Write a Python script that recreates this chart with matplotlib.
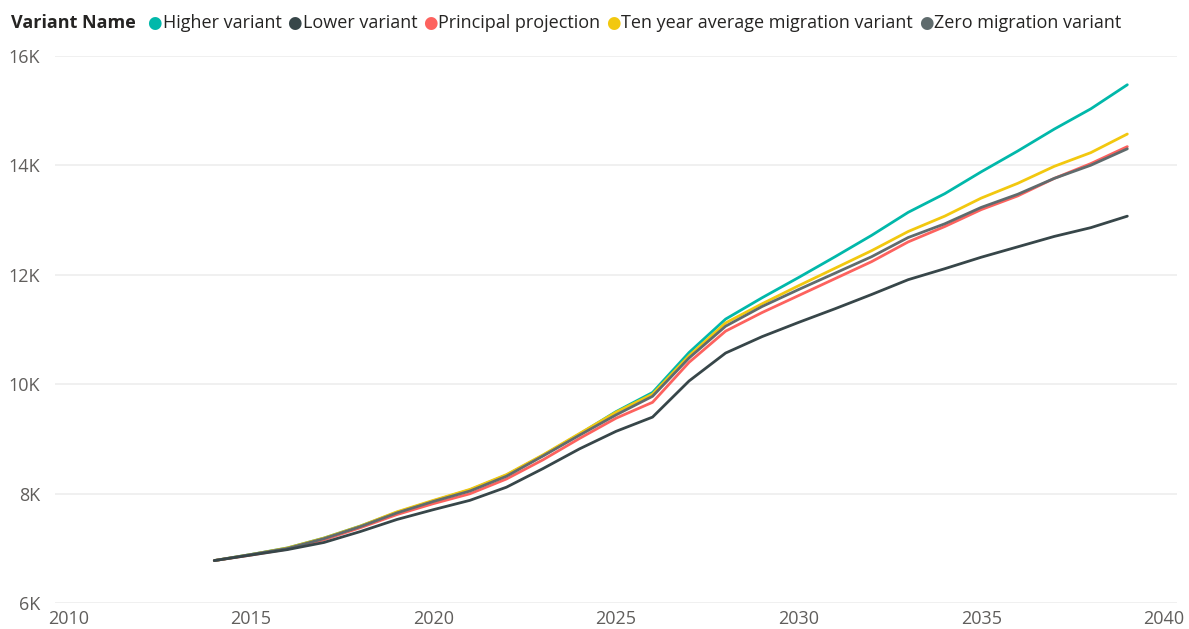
import matplotlib
matplotlib.use("Agg")
import matplotlib.pyplot as plt
from matplotlib.ticker import FuncFormatter

years = list(range(2014, 2040))

higher = [6780, 6890, 7010, 7190, 7410, 7660, 7870, 8070, 8340, 8700, 9090, 9500, 9850,
          10580, 11190, 11580, 11950, 12330, 12720, 13140, 13480, 13880, 14260, 14660, 15030, 15470]
lower = [6780, 6880, 6980, 7110, 7310, 7530, 7710, 7880, 8120, 8460, 8820, 9140, 9400,
         10060, 10570, 10870, 11130, 11380, 11640, 11910, 12110, 12320, 12510, 12700, 12860, 13070]
principal = [6780, 6880, 6990, 7160, 7380, 7620, 7820, 8000, 8270, 8620, 9010, 9380, 9670,
             10400, 10970, 11310, 11620, 11930, 12240, 12600, 12880, 13190, 13440, 13760, 14030, 14340]
ten_year = [6780, 6890, 7010, 7190, 7410, 7670, 7880, 8080, 8350, 8710, 9100, 9490, 9820,
            10520, 11120, 11470, 11800, 12120, 12440, 12790, 13070, 13400, 13670, 13980, 14230, 14570]
zero = [6780, 6890, 7000, 7180, 7400, 7650, 7860, 8050, 8320, 8690, 9070, 9440, 9780,
        10480, 11060, 11420, 11730, 12030, 12330, 12680, 12930, 13230, 13470, 13760, 14000, 14300]

names = ["Higher variant", "Lower variant", "Principal projection",
         "Ten year average migration variant", "Zero migration variant"]
series = [higher, lower, principal, ten_year, zero]
colors = ["#01B8AA", "#374649", "#FD625E", "#F2C80F", "#5F6B6D"]

plt.rcParams["font.family"] = ["Open Sans", "DejaVu Sans"]

fig = plt.figure(figsize=(11.89, 6.29), dpi=100)
ax = fig.add_axes([0.0463, 0.0409, 0.9436, 0.8705])

# draw order: keep principal under zero like the reference
for idx in [0, 3, 2, 4, 1]:
    ax.plot(years, series[idx], color=colors[idx], lw=2.0, solid_capstyle="round")

ax.set_xlim(2009.64, 2040.36)
ax.set_ylim(6000, 16000)
ax.set_xticks(range(2010, 2041, 5))
ax.set_yticks(range(6000, 16001, 2000))
ax.yaxis.set_major_formatter(FuncFormatter(lambda v, p: f"{int(v / 1000)}K"))
ax.grid(axis="y", color="#EDEDED", lw=1.2)
ax.set_axisbelow(True)
for s in ax.spines.values():
    s.set_visible(False)
ax.tick_params(length=0, labelsize=13, colors="#605E5C")
ax.tick_params(axis="y", pad=11)
ax.tick_params(axis="x", pad=5)

# legend row across the top
r = fig.canvas.get_renderer()
y_leg = 1 - 22.5 / 629
t = fig.text(11 / 1189, y_leg, "Variant Name", fontsize=13, fontweight="bold",
             color="#252423", va="center")
x = t.get_window_extent(r).x1 + 19
for name, c in zip(names, colors):
    fig.text(x / 1189, y_leg, "\u25cf", fontsize=12, color=c, va="center", ha="center",
             family="DejaVu Sans")
    t = fig.text((x + 8) / 1189, y_leg, name, fontsize=13, color="#252423", va="center")
    x = t.get_window_extent(r).x1 + 13

fig.savefig("out.png", dpi=100)
